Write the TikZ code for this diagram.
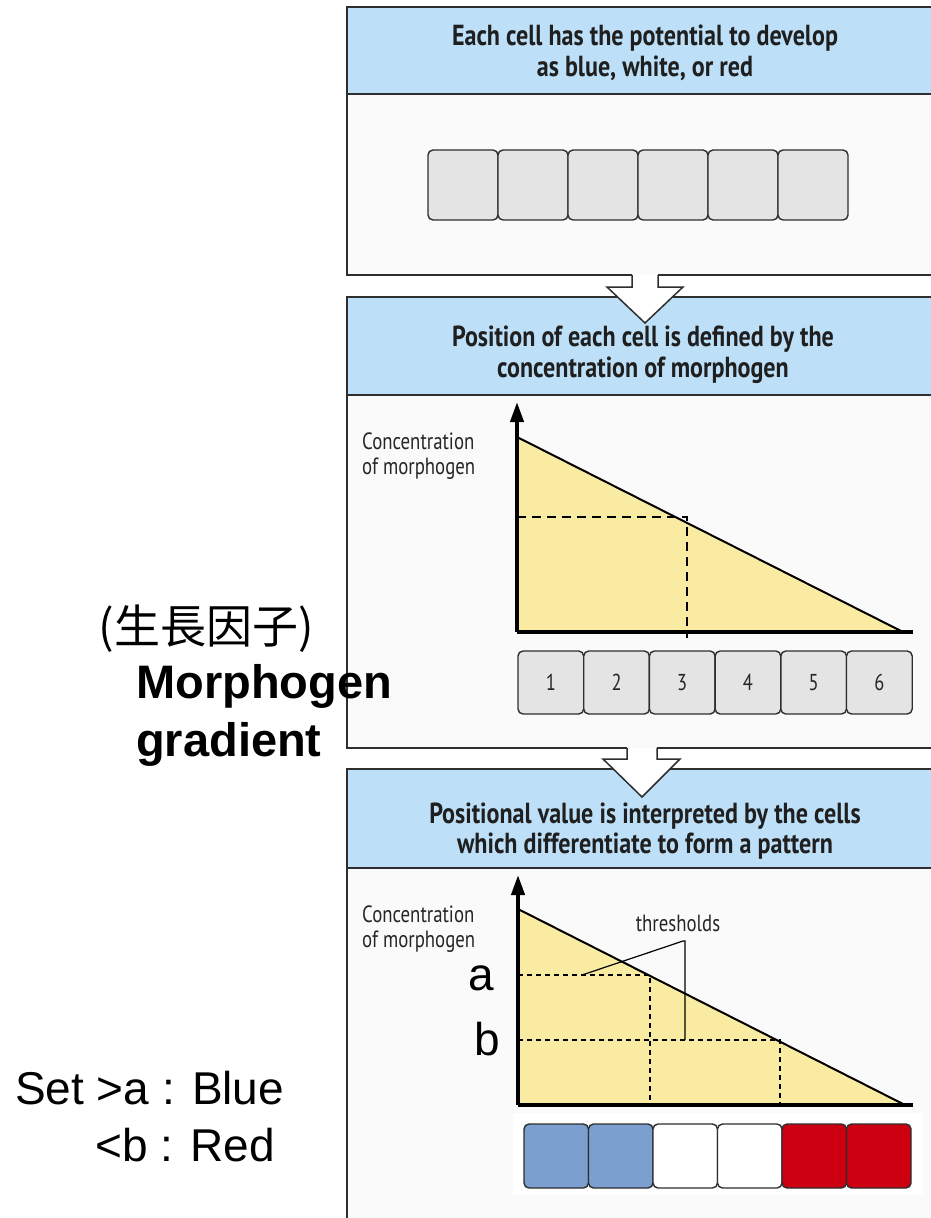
\documentclass[tikz,border=0pt]{standalone}
\usepackage{fontspec}
\setmainfont{Liberation Sans}
\newfontfamily\cond[FakeStretch=0.83]{PT Sans}
\newfontfamily\condn[FakeStretch=0.8]{PT Sans}
\newfontfamily\cjk{Noto Sans CJK TC}
\usetikzlibrary{arrows.meta}
\definecolor{hdr}{HTML}{BDE0F8}
\definecolor{pbg}{HTML}{FAFAFA}
\definecolor{cellg}{HTML}{E4E4E4}
\definecolor{yel}{HTML}{F9EBA2}
\definecolor{cblue}{HTML}{7BA0D0}
\definecolor{cred}{HTML}{CC0011}
\definecolor{edge}{HTML}{2E2E2E}
\tikzset{
  panel/.style={draw=edge, line width=1.5pt, fill=pbg},
  header/.style={draw=edge, line width=1.5pt, fill=hdr},
  hdrtext/.style={font=\cond\bfseries\fontsize{29}{30.5}\selectfont, align=center, text=black!88},
  cellbox/.style={draw=edge, line width=1.4pt, rounded corners=5pt, fill=cellg, inner sep=0pt, outer sep=0pt},
  axisline/.style={line width=4pt, black},
  slope/.style={line width=2pt, black},
  dashA/.style={line width=1.4pt, black, dash pattern=on 9pt off 6pt},
  dashB/.style={line width=1.3pt, black, dash pattern=on 5pt off 4pt},
  leader/.style={line width=1.2pt, black},
  smalltext/.style={font=\condn\fontsize{23.5}{25}\selectfont, align=left, text=black!85},
  numtext/.style={font=\condn\fontsize{23}{24}\selectfont, text=black!85},
  bigtext/.style={font=\fontsize{46}{52}\selectfont},
  boldtext/.style={font=\bfseries\fontsize{47}{56}\selectfont},
  blockarrow/.style={draw=edge, line width=1.5pt, fill=white, line join=miter},
  axtip/.style={-{Triangle[length=20pt,width=13pt]}}
}
\begin{document}
\begin{tikzpicture}[x=1pt,y=-1pt]
\clip (0,0) rectangle (931,1218);
\fill[white] (0,0) rectangle (931,1218);

% ---------- Panel 1 ----------
\draw[panel] (347,7) rectangle (960,275);
\draw[header] (347,7) rectangle (960,94);
\node[hdrtext] (h1) at (645,53) {Each cell has the potential to develop\\as blue, white, or red};
\foreach \i in {0,...,5}{
  \node[cellbox, minimum width=70pt, minimum height=70pt] (p\i) at ({463+70*\i},185) {};
}

% ---------- Panel 2 ----------
\draw[panel] (347,297) rectangle (960,748);
\draw[header] (347,297) rectangle (960,395);
\node[hdrtext] (h2) at (643,355) {Position of each cell is defined by the\\concentration of morphogen};

% arrow 1 (panel 1 -> panel 2)
\coordinate (a1tip) at (645,323);
\fill[pbg] (632,273) rectangle (658,277);
\draw[blockarrow] (632,275) -- (632,287) -- (607,287) -- (a1tip) -- (683,287) -- (658,287) -- (658,275);

% graph 2
\coordinate (o2) at (517,632);
\fill[yel] (517,437) -- (903,632) -- (o2) -- cycle;
\draw[slope] (517,437) -- (903,632);
\draw[dashA] (517,517) -- (687,517) -- (687,638);
\draw[axisline] (o2) -- (913,632);
\draw[axisline, axtip] (o2) -- (517,402);
\node[smalltext, anchor=north west, inner sep=0pt] (yl2) at (362,433) {Concentration\\of morphogen};
\foreach \i in {1,...,6}{
  \node[cellbox, minimum width=65.7pt, minimum height=63pt] (q\i) at ({518+65.7*\i-32.85},682.5) {};
  \node[numtext] at (q\i) {\i};
}

% ---------- Panel 3 ----------
\draw[panel] (347,769) rectangle (960,1240);
\draw[header] (347,769) rectangle (960,868);
\node[hdrtext] (h3) at (645,831) {Positional value is interpreted by the cells\\which differentiate to form a pattern};

% arrow 2 (panel 2 -> panel 3)
\coordinate (a2tip) at (642,797);
\fill[pbg] (627,746) rectangle (657,750);
\draw[blockarrow] (627,748) -- (627,759) -- (603,759) -- (a2tip) -- (680,759) -- (657,759) -- (657,748);

% graph 3
\coordinate (o3) at (518,1105);
\fill[yel] (518,909) -- (905,1105) -- (o3) -- cycle;
\draw[slope] (518,909) -- (905,1105);
\draw[dashB] (518,975) -- (650,975) -- (650,1105);
\draw[dashB] (518,1040) -- (780,1040) -- (780,1105);
\draw[axisline] (o3) -- (913,1105);
\draw[axisline, axtip] (o3) -- (518,875);
\node[smalltext, anchor=north west, inner sep=0pt] (yl3) at (362,906) {Concentration\\of morphogen};
\node[smalltext, inner sep=0pt] (thr) at (678,923) {thresholds};
\coordinate (ta) at (582,975);
\coordinate (tb) at (685,1040);
\draw[leader] (ta) -- (683,941) -- (685,941) -- (tb);

\fill[white] (513,1113) rectangle (923,1195);
\foreach \i/\c in {1/cblue,2/cblue,3/white,4/white,5/cred,6/cred}{
  \node[cellbox, fill=\c, minimum width=64.5pt, minimum height=64pt] (r\i) at ({524+64.5*\i-32.25},1156) {};
}

% ---------- left annotations ----------
\node[font=\cjk\fontsize{46}{52}\selectfont, inner sep=0pt] (cjk) at (206,629) {(生長因子)};
\node[boldtext, anchor=base west, inner sep=0pt] (mg1) at (136,698) {Morphogen};
\node[boldtext, anchor=base west, inner sep=0pt] (mg2) at (136,756) {gradient};
\node[bigtext, anchor=base, inner sep=0pt] (la) at (481,990) {a};
\node[bigtext, anchor=base, inner sep=0pt] (lb) at (487,1055) {b};
\node[bigtext, anchor=base west, inner sep=0pt] (s1) at (15,1104) {Set >a : Blue};
\node[bigtext, anchor=base west, inner sep=0pt] (s2) at (95,1161) {<b : Red};
\end{tikzpicture}
\end{document}
